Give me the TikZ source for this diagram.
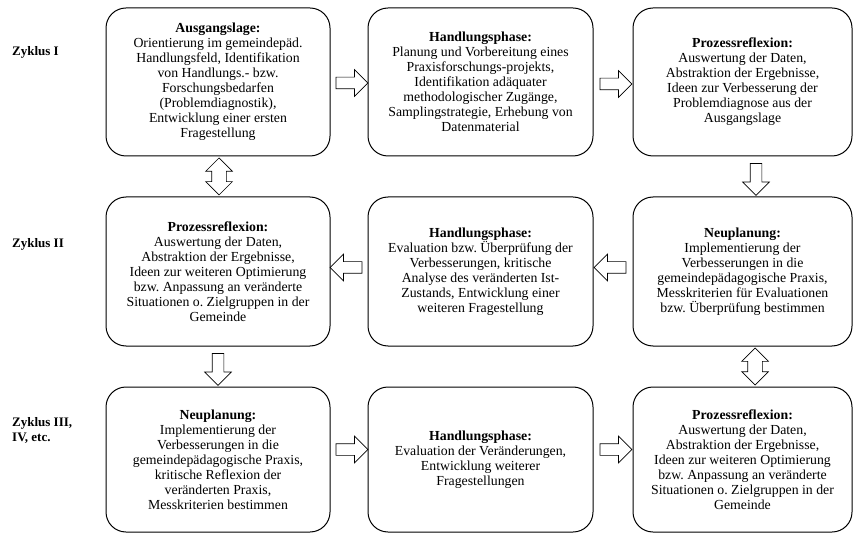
\documentclass[tikz,border=0pt]{standalone}
\usepackage{fontspec}
\setmainfont{Liberation Serif}
\usetikzlibrary{shapes.arrows,calc}
\frenchspacing
\tikzset{
  box/.style={draw=black, line width=1pt, rounded corners=20pt, align=center,
    font=\fontsize{13.8}{15}\selectfont, inner sep=0pt},
  col1/.style={minimum width=224pt},
  col2/.style={minimum width=225pt},
  col3/.style={minimum width=219pt},
  row1/.style={minimum height=148pt},
  row2/.style={minimum height=149pt},
  row3/.style={minimum height=145pt},
  cyc/.style={font=\fontsize{13}{15}\selectfont\bfseries, align=left, anchor=west, inner sep=0pt},
  sarrow/.style={single arrow, draw=black, line width=0.7pt, fill=white,
    inner sep=5.5pt, minimum width=26pt, minimum height=32pt, single arrow head extend=7.5pt},
  darrow/.style={double arrow, draw=black, line width=0.7pt, fill=white,
    inner sep=7pt, minimum width=26pt, minimum height=37pt, double arrow head extend=6pt},
}
\begin{document}
\begin{tikzpicture}[x=1pt, y=-1pt]
\useasboundingbox (0,0) rectangle (853,534);

% Row 1
\node[box, col1, row1] (a1) at (218,82) {\textbf{Ausgangslage:}\\Orientierung im gemeindepäd.\\Handlungsfeld, Identifikation\\von Handlungs.- bzw.\\Forschungsbedarfen\\(Problemdiagnostik),\\Entwicklung einer ersten\\Fragestellung};
\node[box, col2, row1] (a2) at (480.5,82) {\textbf{Handlungsphase:}\\Planung und Vorbereitung eines\\Praxisforschungs-projekts,\\Identifikation adäquater\\methodologischer Zugänge,\\Samplingstrategie, Erhebung von\\Datenmaterial};
\node[box, col3, row1] (a3) at (742.5,82) {\textbf{Prozessreflexion:}\\Auswertung der Daten,\\Abstraktion der Ergebnisse,\\Ideen zur Verbesserung der\\Problemdiagnose aus der\\Ausgangslage};

% Row 2
\node[box, col1, row2] (b1) at (218,271.5) {\textbf{Prozessreflexion:}\\Auswertung der Daten,\\Abstraktion der Ergebnisse,\\Ideen zur weiteren Optimierung\\bzw. Anpassung an veränderte\\Situationen o. Zielgruppen in der\\Gemeinde};
\node[box, col2, row2] (b2) at (480.5,271.5) {\textbf{Handlungsphase:}\\Evaluation bzw. Überprüfung der\\Verbesserungen, kritische\\Analyse des veränderten Ist-\\Zustands, Entwicklung einer\\weiteren Fragestellung};
\node[box, col3, row2] (b3) at (742.5,271.5) {\textbf{Neuplanung:}\\Implementierung der\\Verbesserungen in die\\gemeindepädagogische Praxis,\\Messkriterien für Evaluationen\\bzw. Überprüfung bestimmen};

% Row 3
\node[box, col1, row3] (c1) at (218,459.5) {\textbf{Neuplanung:}\\Implementierung der\\Verbesserungen in die\\gemeindepädagogische Praxis,\\kritische Reflexion der\\veränderten Praxis,\\Messkriterien bestimmen};
\node[box, col2, row3] (c2) at (480.5,459.5) {\textbf{Handlungsphase:}\\Evaluation der Veränderungen,\\Entwicklung weiterer\\Fragestellungen};
\node[box, col3, row3] (c3) at (742.5,459.5) {\textbf{Prozessreflexion:}\\Auswertung der Daten,\\Abstraktion der Ergebnisse,\\Ideen zur weiteren Optimierung\\bzw. Anpassung an veränderte\\Situationen o. Zielgruppen in der\\Gemeinde};

% Cycle labels
\node[cyc] (z1) at (12,52) {Zyklus I};
\node[cyc] (z2) at (12,244) {Zyklus II};
\node[cyc] (z3) at (12,430) {Zyklus III,\\IV, etc.};

% Block arrows
\node[sarrow] (r1) at ($(a1.east)!0.5!(a2.west)+(0,1)$) {};
\node[sarrow] (r2) at ($(a2.east)!0.5!(a3.west)+(0,2)$) {};
\node[sarrow, rotate=-90] (d1) at ($(a3.south)!0.5!(b3.north)+(13.5,0)$) {};
\node[sarrow, rotate=180] (l1) at ($(b3.west)!0.5!(b2.east)+(0,-4)$) {};
\node[sarrow, rotate=180] (l2) at ($(b2.west)!0.5!(b1.east)+(0,-4)$) {};
\node[sarrow, rotate=-90] (d2) at ($(b1.south)!0.5!(c1.north)+(0,0)$) {};
\node[darrow, rotate=90] (v1) at ($(a1.south)!0.5!(b1.north)+(1,0)$) {};
\node[darrow, rotate=90] (v2) at ($(b3.south)!0.5!(c3.north)+(12.5,0)$) {};
\node[sarrow] (r3) at ($(c1.east)!0.5!(c2.west)+(0,-10)$) {};
\node[sarrow] (r4) at ($(c2.east)!0.5!(c3.west)+(0,-10)$) {};
\end{tikzpicture}
\end{document}
